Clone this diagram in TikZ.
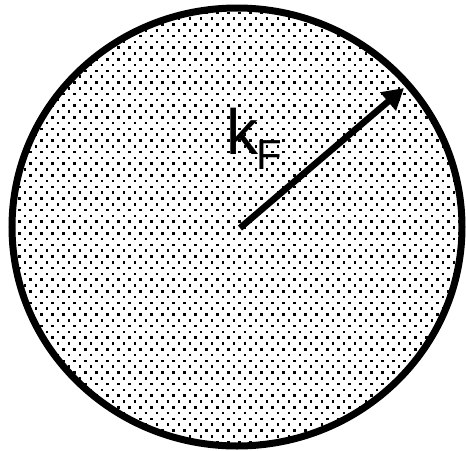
\documentclass[tikz,border=0pt]{standalone}
\usepackage{fontspec}
\setmainfont{Liberation Sans}
\usetikzlibrary{arrows.meta}
\tikzset{
  rim/.style={line width=7pt, draw=black},
  dotsq/.style={fill=black},
  vec/.style={line width=6.5pt, -{Triangle[length=21pt,width=23pt]}},
}
\begin{document}
\begin{tikzpicture}[x=1pt,y=-1pt]
\useasboundingbox (0,0) rectangle (466,450);
\fill[white] (0,0) rectangle (466,450);
\begin{scope}
  \clip (237,227) ellipse [x radius=225, y radius=219];
  \foreach \r in {0,...,78}{
    \pgfmathsetmacro{\yy}{7+5.8*\r}
    \pgfmathsetmacro{\off}{mod(\r,2)*5.5}
    \foreach \c in {0,...,43}{
      \fill[dotsq] ({3+\off+11*\c-1.3},{\yy-1.3}) rectangle ++(2.7,2.7);
    }
  }
\end{scope}
\draw[rim] (237,227) ellipse [x radius=225, y radius=219];
\coordinate (o) at (240,228);
\coordinate (tip) at (404,88);
\draw[vec] (o) -- (tip);
\node[anchor=base west, inner sep=0pt, font=\fontsize{64}{64}\selectfont] (k) at (226,154) {k};
\node[anchor=base west, inner sep=0pt, font=\fontsize{42}{42}\selectfont] (F) at (256,169) {F};
\end{tikzpicture}
\end{document}
